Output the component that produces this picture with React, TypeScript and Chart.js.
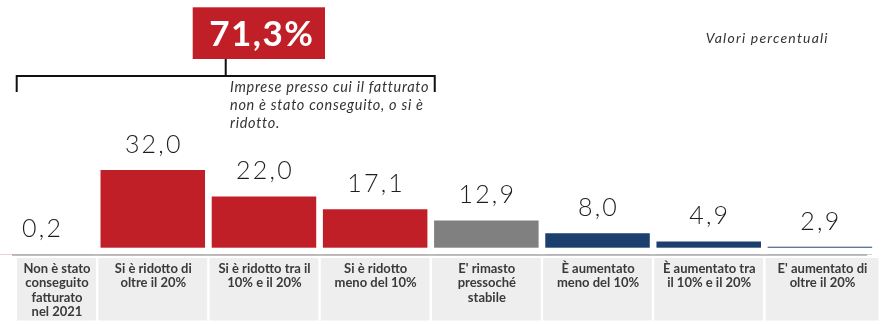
import React, { useEffect, useRef } from "react";
import { Chart, registerables } from "chart.js";

Chart.register(...registerables);

// ---------- data ----------
const categoryLines: string[][] = [
  ["Non è stato", "conseguito", "fatturato", "nel 2021"],
  ["Si è ridotto di", "oltre il 20%"],
  ["Si è ridotto tra il", "10% e il 20%"],
  ["Si è ridotto", "meno del 10%"],
  ["E' rimasto", "pressoché", "stabile"],
  ["È aumentato", "meno del 10%"],
  ["È aumentato tra", "il 10% e il 20%"],
  ["E' aumentato di", "oltre il 20%"],
];
const values: number[] = [0.2, 32.0, 22.0, 17.1, 12.9, 8.0, 4.9, 2.9];
const RED = "#c11f28";
const GREY = "#808080";
const NAVY = "#1d3f6d";
const barColors: string[] = [RED, RED, RED, RED, GREY, NAVY, NAVY, NAVY];
const groupIndexes: number[] = [0, 1, 2, 3];
const noteLines: string[] = [
  "Imprese presso cui il fatturato",
  "non è stato conseguito, o si è",
  "ridotto.",
];
const unitNote = "Valori percentuali";

const fmt = (v: number) => v.toFixed(1).replace(".", ",");
const totalLabel =
  fmt(groupIndexes.reduce((s, i) => s + values[i], 0)) + "%";

// canvas is shifted left of the page by SHIFT px
const SHIFT = 40;
const W = 930;
const H = 324;

function spaced(ctx: any, px: number) {
  try {
    ctx.letterSpacing = px + "px";
  } catch (e) {}
}

const overlay = {
  id: "overlay",
  afterDatasetsDraw(chart: any) {
    const ctx: any = chart.ctx;
    const xs = chart.scales.x;
    const ys = chart.scales.y;
    const zero = ys.getPixelForValue(0);
    const n = values.length;
    const cw = xs.getPixelForValue(1) - xs.getPixelForValue(0);
    ctx.save();

    // white band hiding bar bottoms
    ctx.fillStyle = "#ffffff";
    ctx.fillRect(0, zero - 6.7, W, 6.4);
    // axis line
    ctx.strokeStyle = "#a8a8a8";
    ctx.lineWidth = 1.5;
    ctx.beginPath();
    ctx.moveTo(SHIFT + 12, zero + 0.6);
    ctx.lineTo(SHIFT + 867, zero + 0.6);
    ctx.stroke();

    // category boxes + labels
    for (let i = 0; i < n; i++) {
      const c = xs.getPixelForValue(i);
      let l = c - cw / 2 + 1.2;
      let r = c + cw / 2 - 1.2;
      if (l < SHIFT + 17) l = SHIFT + 17;
      if (i === n - 1) r = c + cw / 2 + 3;
      ctx.fillStyle = "#eeeeee";
      ctx.fillRect(l, 258, r - l, 62.5);
      ctx.fillStyle = "#3a3a3a";
      ctx.font = 'bold 13px Lato, "DejaVu Sans", sans-serif';
      spaced(ctx, 0);
      ctx.textAlign = "center";
      ctx.textBaseline = "middle";
      const tc = (l + r) / 2 + 0.5;
      categoryLines[i].forEach((line, k) => {
        ctx.fillText(line, tc, 269 + k * 14.2);
      });
    }

    // value labels
    ctx.fillStyle = "#1e1e1e";
    ctx.font = '300 25px Lato, "Open Sans", sans-serif';
    spaced(ctx, 2.2);
    ctx.textAlign = "center";
    ctx.textBaseline = "alphabetic";
    for (let i = 0; i < n; i++) {
      const c = xs.getPixelForValue(i);
      const y = ys.getPixelForValue(values[i]);
      ctx.fillText(fmt(values[i]), c + 1, y - 17);
    }

    // bracket over the group
    const gl = Math.max(xs.getPixelForValue(groupIndexes[0]) - 25, SHIFT + 16.7);
    const gr = xs.getPixelForValue(groupIndexes[groupIndexes.length - 1]) + cw / 2 + 4;
    const gm = (gl + gr) / 2;
    ctx.strokeStyle = "#111111";
    ctx.lineWidth = 2;
    ctx.beginPath();
    ctx.moveTo(gl, 92);
    ctx.lineTo(gl, 76);
    ctx.lineTo(gr, 76);
    ctx.lineTo(gr, 92);
    ctx.moveTo(gm, 76);
    ctx.lineTo(gm, 58);
    ctx.stroke();

    // total box
    const bx = SHIFT + 192.7;
    const bw = 132.3;
    ctx.fillStyle = RED;
    ctx.fillRect(bx, 7.3, bw, 51.7);
    ctx.fillStyle = "#ffffff";
    ctx.font = 'bold 35px Lato, "DejaVu Sans", sans-serif';
    spaced(ctx, 1.5);
    ctx.textAlign = "center";
    ctx.textBaseline = "middle";
    ctx.fillText(totalLabel, bx + bw / 2 + 3, 35);

    // note text
    ctx.fillStyle = "#333333";
    ctx.font = 'italic 14.5px Lato, "DejaVu Sans", sans-serif';
    spaced(ctx, 0.7);
    ctx.textAlign = "left";
    noteLines.forEach((line, k) => {
      ctx.fillText(line, SHIFT + 230, 87 + k * 18);
    });

    // unit note
    ctx.font = 'italic 14px Lato, "DejaVu Sans", sans-serif';
    spaced(ctx, 1.2);
    ctx.fillText(unitNote, SHIFT + 705.7, 38);

    ctx.restore();
  },
};

export default function App() {
  const ref = useRef<HTMLCanvasElement | null>(null);
  useEffect(() => {
    if (!ref.current) return;
    const chart = new Chart(ref.current, {
      type: "bar",
      data: {
        labels: categoryLines.map((l) => l.join(" ")),
        datasets: [
          {
            data: values,
            backgroundColor: barColors,
            borderWidth: 0,
            categoryPercentage: 1,
            barPercentage: 0.94,
          },
        ],
      },
      options: {
        responsive: false,
        animation: false,
        devicePixelRatio: 1,
        layout: { padding: { left: 26, right: 14.5, top: 96.15, bottom: 69.6 } },
        scales: {
          x: { display: false },
          y: { display: false, min: 0, max: 60 },
        },
        plugins: { legend: { display: false }, tooltip: { enabled: false } },
      },
      plugins: [overlay],
    } as any);
    return () => chart.destroy();
  }, []);
  return (
    <div
      style={{
        position: "absolute",
        left: -SHIFT,
        top: 0,
        width: W,
        height: H,
        background: "#ffffff",
      }}
    >
      <canvas ref={ref} width={W} height={H} style={{ display: "block", width: W, height: H }} />
    </div>
  );
}
